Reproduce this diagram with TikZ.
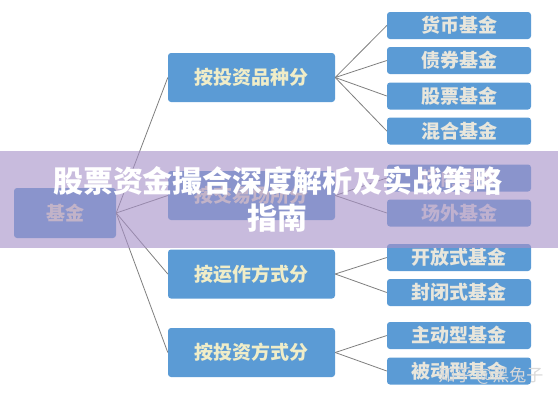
\documentclass[tikz,border=0pt]{standalone}
\usepackage{fontspec}
\newfontfamily\cjk{Noto Sans CJK SC}
\usetikzlibrary{positioning}
\definecolor{boxblue}{HTML}{5B9BD5}
\definecolor{boxtext}{HTML}{F0EDC8}
\definecolor{leaftext}{HTML}{E8E6DC}
\definecolor{linkgray}{HTML}{7F7F7F}
\definecolor{band}{RGB}{167,145,200}

\begin{document}
\begin{tikzpicture}[
    x=1pt, y=-1pt,
    box/.style={fill=boxblue, rounded corners=3pt, inner sep=0pt, text=boxtext, font=\cjk\bfseries\fontsize{19}{19}\selectfont},
    midbox/.style={box, minimum width=167pt, minimum height=49pt},
    leaf/.style={box, minimum width=144pt, minimum height=27pt, text=leaftext},
    link/.style={draw=linkgray, line width=0.8pt}
]
\useasboundingbox (0,0) rectangle (558,400);
% root and the four ways of sorting
\node[box, minimum width=102pt, minimum height=50pt] (root) at (65,213) {基金};
\node[midbox] (bykind) at (251.5,77.5) {按投资品种分};
\node[midbox] (bymarket) at (251.5,195.5) {按交易场所分};
\node[midbox] (byopen) at (251.5,274) {按运作方式分};
\node[midbox] (bystyle) at (251.5,352.5) {按投资方式分};
% leaves
\node[leaf] (money) at (459,25.5) {货币基金};
\node[leaf] (bond) at (459,60.5) {债券基金};
\node[leaf] (stock) at (459,96) {股票基金};
\node[leaf] (mixed) at (459,131) {混合基金};
\node[leaf] (onex) at (459,178) {场内基金};
\node[leaf] (offex) at (459,213) {场外基金};
\node[leaf] (open) at (459,257.5) {开放式基金};
\node[leaf] (closed) at (459,292.5) {封闭式基金};
\node[leaf] (active) at (459,335.5) {主动型基金};
\node[leaf] (passive) at (459,371) {被动型基金};
% connectors
\foreach \mid in {bykind, bymarket, byopen, bystyle}
  \draw[link] (root.east) -- (\mid.west);
\foreach \leafname in {money, bond, stock, mixed}
  \draw[link] (bykind.east) -- (\leafname.west);
\foreach \leafname in {onex, offex}
  \draw[link] (bymarket.east) -- (\leafname.west);
\foreach \leafname in {open, closed}
  \draw[link] (byopen.east) -- (\leafname.west);
\foreach \leafname in {active, passive}
  \draw[link] (bystyle.east) -- (\leafname.west);
% title band over the middle
\fill[band, fill opacity=0.62] (0,151) rectangle (558,248);
\node[font=\cjk\bfseries\fontsize{30}{37}\selectfont, text=white, align=center] (title) at (278,199.5) {股票资金撮合深度解析及实战策略\\指南};
\node[font=\cjk\fontsize{17}{17}\selectfont, text=white!85!black] (mark) at (491,376) {知乎 @黑兔子};
\end{tikzpicture}
\end{document}
